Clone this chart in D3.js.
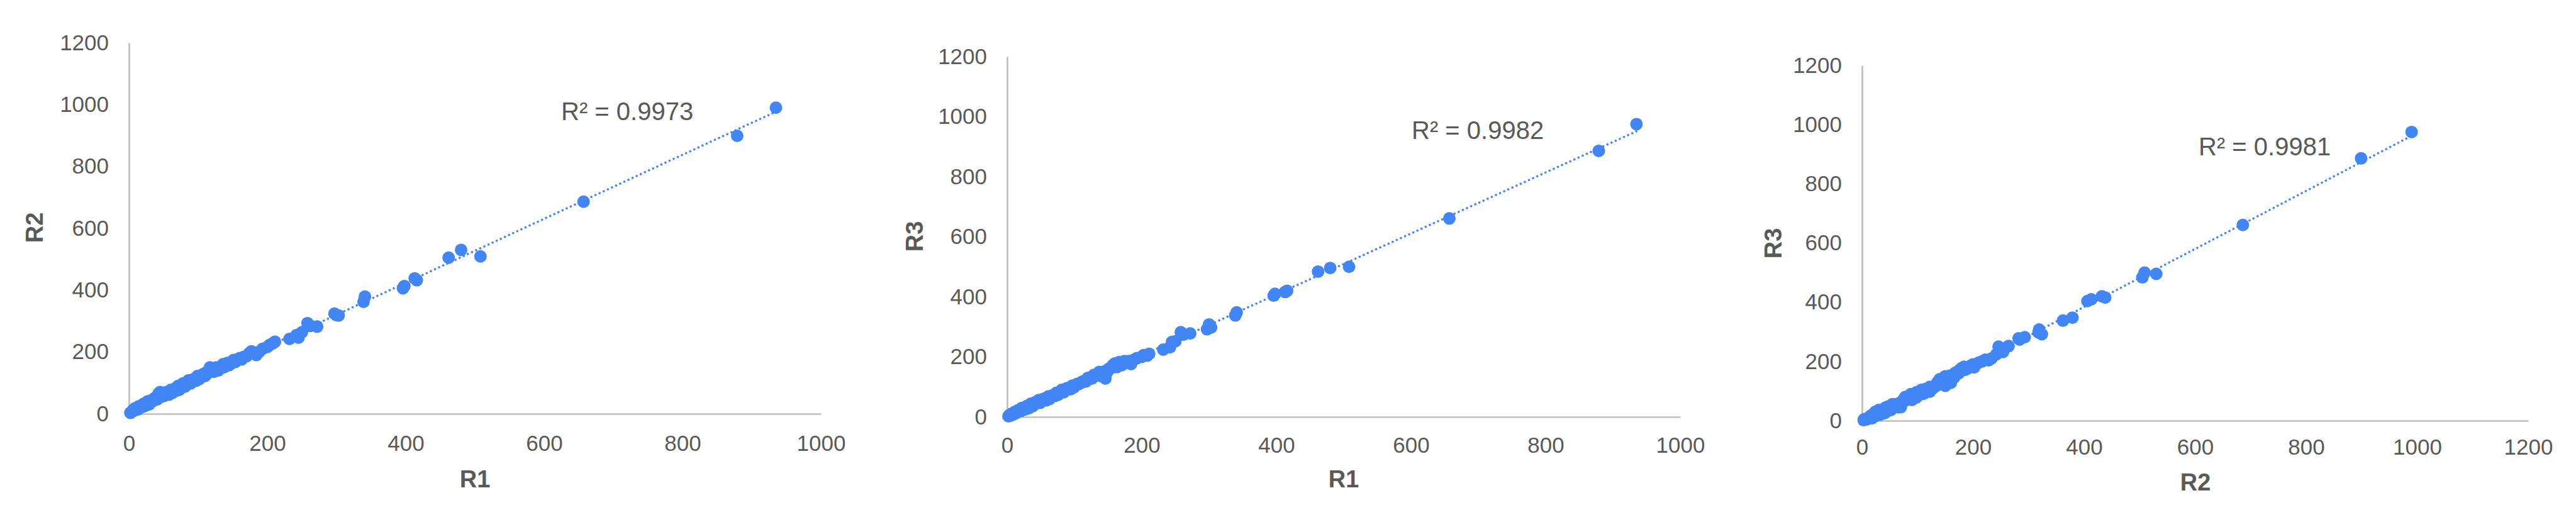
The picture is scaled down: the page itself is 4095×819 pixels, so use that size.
<!DOCTYPE html>
<html><head><meta charset="utf-8">
<script src="https://cdn.jsdelivr.net/npm/d3@7"></script>
<style>body{margin:0;background:#fff} svg{display:block}</style>
</head><body>
<svg id="chart" width="4095" height="819"></svg>
<script>
// ---- data (one entry per sample, three replicate readings) ----
const r1 = [2,3,5,6,8,9,11,13,14,16,19,21,22,25,27,29,31,33,35,38,39,41,43,45,47,49,51,54,56,58,61,63,65,68,69,71,73,76,78,81,84,86,89,91,94,97,99,102,104,107,110,112,115,117,120,123,126,129,133,136,137,139,142,143,145,146,148,151,154,157,160,163,166,170,174,177,180,184,188,193,200,203,208,211,232,242,245,250,258,262,272,297,300,303,339,341,396,398,413,416,462,480,508,657,879,935];
const r2 = [3,4,8,12,11,18,15,14,24,20,22,32,24,31,40,30,38,44,42,52,49,47,66,70,55,64,58,70,64,62,78,68,74,84,75,90,78,86,98,88,96,108,98,110,112,107,122,113,120,128,122,134,133,150,144,136,150,140,152,160,150,155,164,156,158,160,166,174,168,176,180,176,184,186,196,202,198,190,200,210,216,222,228,233,242,254,246,264,293,284,282,324,319,318,362,379,406,413,438,432,505,530,509,686,899,990];
const r3 = [2,5,4,10,9,8,16,12,16,22,21,20,30,27,25,36,33,30,44,36,42,48,45,46,56,47,54,60,57,55,68,60,67,72,72,70,80,74,79,90,82,90,96,95,92,104,98,106,110,110,114,118,120,118,130,130,128,140,138,142,150,136,148,136,152,128,146,160,162,172,178,166,182,172,186,180,186,176,190,196,200,206,204,210,224,232,250,252,282,274,278,292,308,298,338,348,404,410,416,420,484,496,500,661,886,975];

const yTicks = [0,200,400,600,800,1000,1200];
const xTicksA = [0,200,400,600,800,1000];
const xTicksB = [0,200,400,600,800,1000,1200];
const r2Labels = ["R\u00B2 = 0.9973","R\u00B2 = 0.9982","R\u00B2 = 0.9981"];
const xTitles = ["R1","R1","R2"];
const yTitles = ["R2","R3","R3"];

// ---- layout ----
const panels = [
  {xs:r1, ys:r2, xMax:1000, xTicks:xTicksA, left:205, right:1305, top:68, bottom:658, xPad:34, yPad:32,
   xTitle:[755,762], yTitle:[55,362], lab:[892,191]},
  {xs:r1, ys:r3, xMax:1000, xTicks:xTicksA, left:1601, right:2671, top:90, bottom:663, xPad:32, yPad:32,
   xTitle:[2136,762], yTitle:[1454,376], lab:[2244,221]},
  {xs:r2, ys:r3, xMax:1200, xTicks:xTicksB, left:2960, right:4019, top:104, bottom:669, xPad:29, yPad:32,
   xTitle:[3490,767], yTitle:[2819,387], lab:[3495,247]}
];

const svg = d3.select("#chart");
const font = "'Liberation Sans', Arial, sans-serif";
const textCol = "#595959", axisCol = "#bfbfbf", blue = "#4285F4";
const fmt = d3.format("d");

panels.forEach((p, i) => {
  const x = d3.scaleLinear().domain([0, p.xMax]).range([p.left, p.right]);
  const y = d3.scaleLinear().domain([0, 1200]).range([p.bottom, p.top]);
  const g = svg.append("g");

  const ax = g.append("g").attr("transform", `translate(0,${p.bottom})`)
    .call(d3.axisBottom(x).tickValues(p.xTicks).tickFormat(fmt).tickSizeInner(0).tickSizeOuter(0).tickPadding(p.xPad));
  const ay = g.append("g").attr("transform", `translate(${p.left},0)`)
    .call(d3.axisLeft(y).tickValues(yTicks).tickFormat(fmt).tickSizeInner(0).tickSizeOuter(0).tickPadding(p.yPad));
  [ax, ay].forEach(a => {
    a.select(".domain").attr("stroke", axisCol).attr("stroke-width", 2.7);
    a.selectAll(".tick line").remove();
    a.selectAll(".tick text").attr("fill", textCol).style("font-family", font).style("font-size", "35px");
  });

  // points
  const pts = p.xs.map((v, k) => [v, p.ys[k]]);
  g.append("g").selectAll("circle").data(pts).join("circle")
    .attr("cx", d => x(d[0])).attr("cy", d => y(d[1])).attr("r", 10).attr("fill", blue);

  // linear trendline (least squares over the plotted points)
  const mx = d3.mean(pts, d => d[0]), my = d3.mean(pts, d => d[1]);
  const sxy = d3.sum(pts, d => (d[0]-mx)*(d[1]-my)), sxx = d3.sum(pts, d => (d[0]-mx)**2);
  const b = sxy / sxx, a0 = my - b*mx;
  const [x0, x1] = d3.extent(pts, d => d[0]);
  g.append("line")
    .attr("x1", x(x0)).attr("y1", y(a0 + b*x0)).attr("x2", x(x1)).attr("y2", y(a0 + b*x1))
    .attr("stroke", blue).attr("stroke-width", 3.6).attr("stroke-linecap", "round")
    .attr("stroke-dasharray", "0.01 7.2");

  // R² label
  g.append("text").attr("x", p.lab[0]).attr("y", p.lab[1]).text(r2Labels[i])
    .attr("fill", textCol).style("font-family", font).style("font-size", "40px");

  // axis titles
  g.append("text").attr("x", p.xTitle[0]).attr("y", p.xTitle[1]).attr("dy", "0.35em")
    .attr("text-anchor", "middle").text(xTitles[i])
    .attr("fill", textCol).style("font-family", font).style("font-size", "38px").style("font-weight", "bold");
  g.append("text").attr("transform", `translate(${p.yTitle[0]},${p.yTitle[1]}) rotate(-90)`)
    .attr("dy", "0.35em").attr("text-anchor", "middle").text(yTitles[i])
    .attr("fill", textCol).style("font-family", font).style("font-size", "38px").style("font-weight", "bold");
});
</script>
</body></html>
